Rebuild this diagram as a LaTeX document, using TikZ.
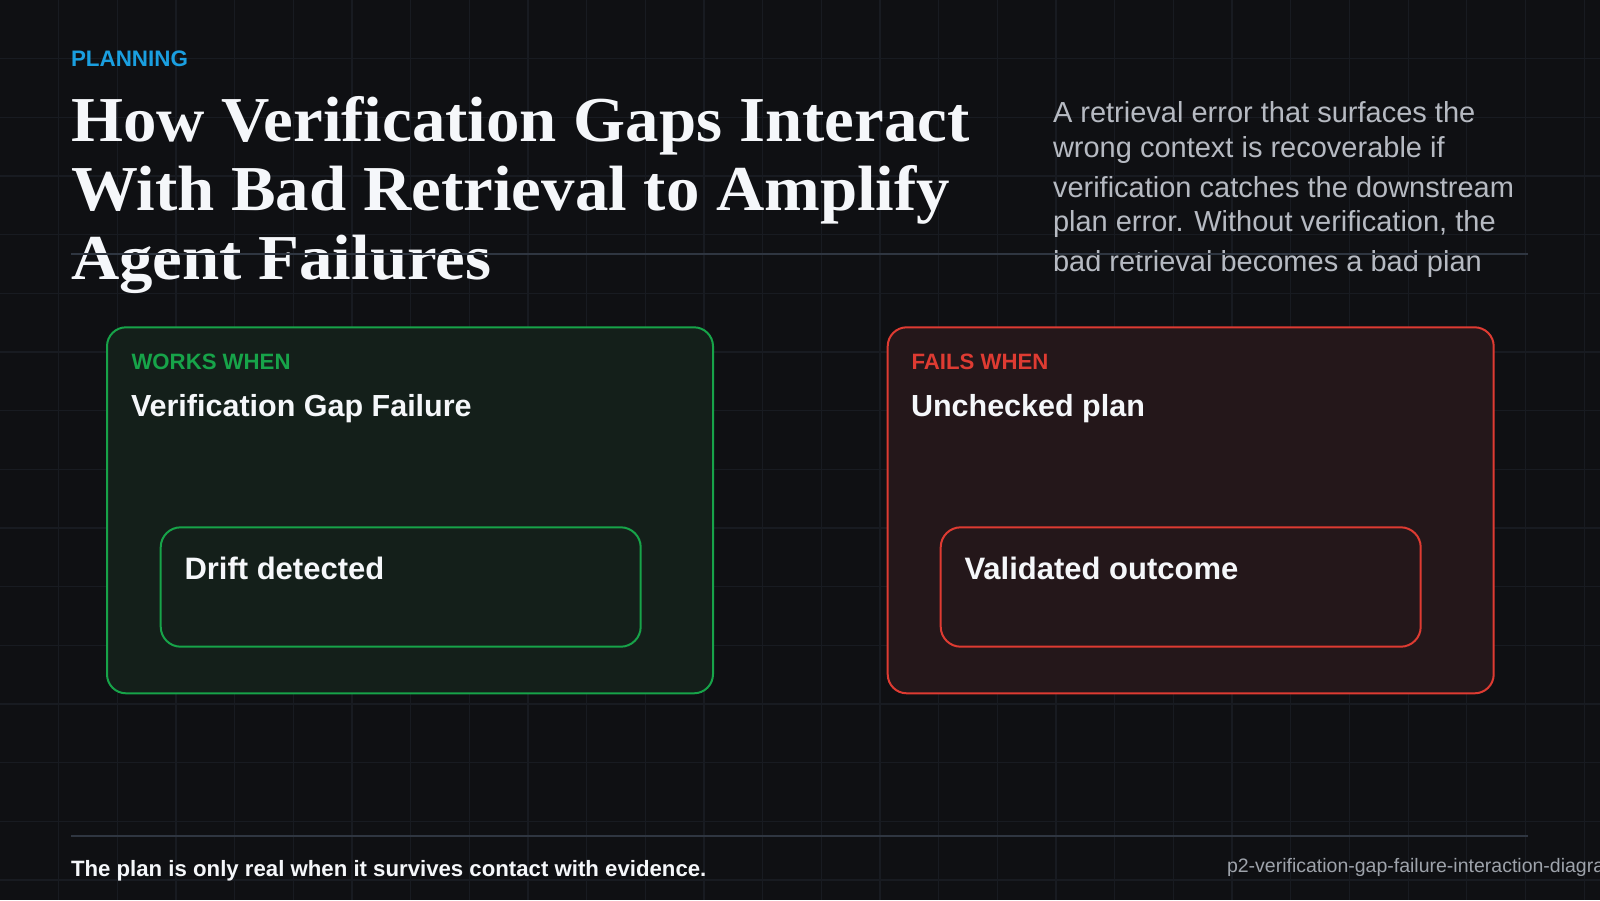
\documentclass[tikz,border=0pt]{standalone}
\usepackage{fontspec}
\usepackage{graphicx}
\setmainfont{Liberation Sans}
\newfontfamily\titlefont{Liberation Serif}
\definecolor{bgc}{HTML}{0F1013}
\definecolor{gridc}{HTML}{181B21}
\definecolor{rulec}{HTML}{2F3641}
\definecolor{bluec}{HTML}{1A9FE0}
\definecolor{greenc}{HTML}{17A349}
\definecolor{redc}{HTML}{DE3B32}
\definecolor{greenfill}{HTML}{141F1A}
\definecolor{redfill}{HTML}{24171A}
\definecolor{parac}{HTML}{B6BAC2}
\definecolor{whitec}{HTML}{F5F7FA}
\definecolor{footc}{HTML}{9EA3AB}
\newcommand{\wideT}[1]{\scalebox{1.045}[1]{#1}}
\begin{document}
\begin{tikzpicture}[x=0.5pt,y=-0.5pt,
  txt/.style={inner sep=0pt, outer sep=0pt, anchor=base west},
  outerbox/.style={draw=#1, line width=1pt, rounded corners=9.5pt, minimum width=303pt, minimum height=183pt, inner sep=0pt},
  innerbox/.style={draw=#1, line width=1pt, rounded corners=10pt, minimum width=240pt, minimum height=59.7pt, inner sep=0pt},
  kicker/.style={txt, font=\fontsize{11.1pt}{13pt}\selectfont\bfseries, text=#1},
  heading/.style={txt, font=\fontsize{15.25pt}{18pt}\selectfont\bfseries, text=whitec},
  para/.style={txt, font=\fontsize{14.5pt}{17pt}\selectfont, text=parac},
  ttl/.style={txt, font=\fontsize{32pt}{34.5pt}\selectfont\titlefont\bfseries, text=whitec},
  rule/.style={draw=rulec, line width=1pt}
]
\useasboundingbox (0,0) rectangle (1600,900);
\begin{scope}
\clip (0,0) rectangle (1600,900);
\fill[bgc] (0,0) rectangle (1600,900);
\foreach \i in {1,...,27} \draw[gridc, line width=0.6pt] (\i*58.67,0) -- (\i*58.67,900);
\foreach \j in {1,...,15} \draw[gridc, line width=0.6pt] (0,\j*58.67) -- (1600,\j*58.67);

% header
\node[txt, font=\fontsize{11.2pt}{13pt}\selectfont\bfseries, text=bluec] (kick) at (71,66) {PLANNING};
\node[ttl] (t1) at (71,141) {\wideT{How Verification Gaps Interact}};
\node[ttl] (t2) at (71,210) {\wideT{With Bad Retrieval to Amplify}};
\node[ttl] (t3) at (71,279) {\wideT{Agent Failures}};

\node[para] (p1) at (1053,122) {A retrieval error that surfaces the};
\node[para] (p2) at (1053,157) {wrong context is recoverable if};
\node[para] (p3) at (1053,197) {verification catches the downstream};
\node[para] (p4) at (1053,231) {plan error. Without verification, the};
\node[para] (p5) at (1053,271) {bad retrieval becomes a bad plan};

\coordinate (r1a) at (71,254);
\coordinate (r1b) at (1528,254);
\draw[rule] (r1a) -- (r1b);

% left panel
\node[outerbox=greenc, fill=greenfill] (lbox) at (410,510.3) {};
\node[kicker=greenc] (lk) at (131.5,369) {WORKS WHEN};
\node[heading] (lh) at (131,416) {Verification Gap Failure};
\node[innerbox=greenc, fill=greenfill] (lin) at (400.7,587) {};
\node[heading, font=\fontsize{15.5pt}{18pt}\selectfont\bfseries] (lit) at (184.5,579) {Drift detected};

% right panel
\node[outerbox=redc, fill=redfill] (rbox) at (1190.7,510.3) {};
\node[kicker=redc] (rk) at (911.5,369) {FAILS WHEN};
\node[heading] (rh) at (911,416) {Unchecked plan};
\node[innerbox=redc, fill=redfill] (rin) at (1180.7,587) {};
\node[heading, font=\fontsize{15.5pt}{18pt}\selectfont\bfseries] (rit) at (964.5,579) {Validated outcome};

% footer
\coordinate (r2a) at (71,836);
\coordinate (r2b) at (1528,836);
\draw[rule] (r2a) -- (r2b);
\node[txt, font=\fontsize{11.1pt}{13pt}\selectfont\bfseries, text=whitec] (ft) at (71,876.5) {The plan is only real when it survives contact with evidence.};
\node[txt, font=\fontsize{9.75pt}{12pt}\selectfont, text=footc] (fid) at (1227,872) {p2-verification-gap-failure-interaction-diagram};
\end{scope}
\end{tikzpicture}
\end{document}
